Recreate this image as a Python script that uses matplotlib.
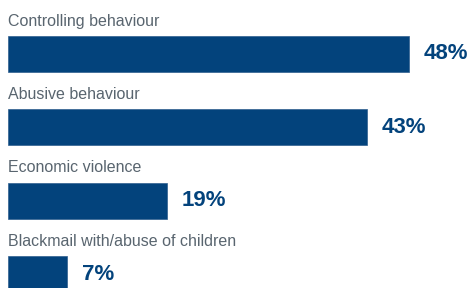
import matplotlib
matplotlib.use("Agg")
import matplotlib.pyplot as plt

categories = ["Controlling behaviour", "Abusive behaviour", "Economic violence",
              "Blackmail with/abuse of children"]
values = [48, 43, 19, 7]
labels = ["48%", "43%", "19%", "7%"]

bar_color = "#03437c"
text_color = "#59656f"
fonts = ["Liberation Sans", "DejaVu Sans"]

fig = plt.figure(figsize=(4.73, 2.88), dpi=100)
ax = fig.add_axes([0, 0, 1, 1])

pos = list(range(len(values)))
ax.barh(pos, values, height=0.49, color=bar_color, edgecolor="#2f5f8f", linewidth=0.5)

for i, (cat, v, lab) in enumerate(zip(categories, values, labels)):
    # category name sits just above its bar
    ax.text(0, i - 0.385, cat, ha="left", va="baseline", fontsize=11.5,
            color=text_color, family=fonts)
    ax.text(v + 1.8, i, lab, ha="left", va="center", fontsize=16,
            fontweight="bold", color=bar_color, family=fonts)

ax.set_xlim(-1.0, 55.72)
ax.set_ylim(3.19, -0.736)
ax.axis("off")

fig.savefig("out.png", dpi=100)
